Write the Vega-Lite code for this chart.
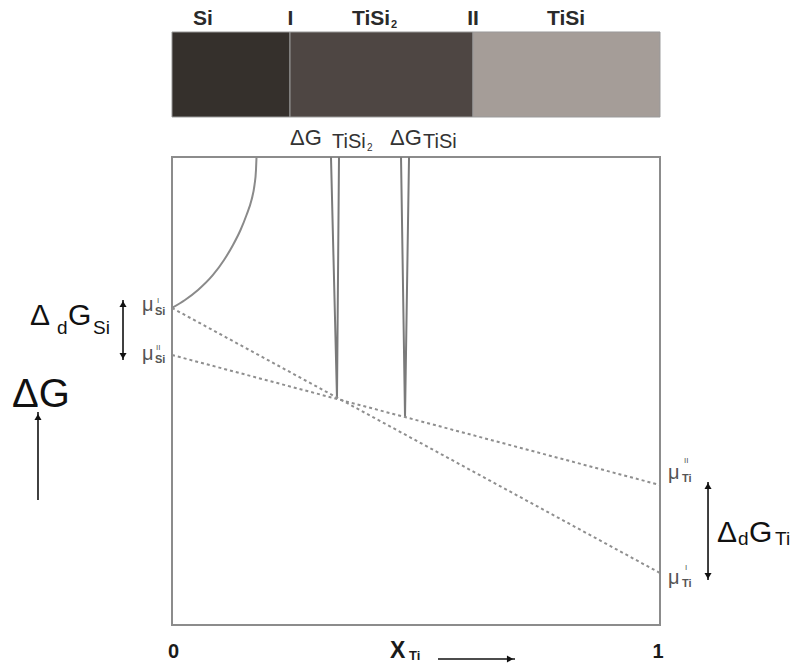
{
  "$schema": "https://vega.github.io/schema/vega-lite/v6.json",
  "width": 799,
  "height": 670,
  "padding": 0,
  "autosize": {"type": "fit", "contains": "padding"},
  "background": "white",
  "config": {"view": {"stroke": null}, "font": "Liberation Sans"},
  "datasets": {
    "bar": [
      {"phase": "Si", "x": 0, "x2": 0.2418, "y": 1.0855, "y2": 1.2671},
      {"phase": "TiSi2", "x": 0.2418, "x2": 0.6168, "y": 1.0855, "y2": 1.2671},
      {"phase": "TiSi", "x": 0.6168, "x2": 1, "y": 1.0855, "y2": 1.2671}
    ],
    "box": [{"x": 0, "x2": 1, "y": 0, "y2": 1}],
    "curve": [
      {"x": 0, "y": 0.6774},
      {"x": 0.0266, "y": 0.6944},
      {"x": 0.0533, "y": 0.7158},
      {"x": 0.084, "y": 0.7479},
      {"x": 0.1066, "y": 0.7799},
      {"x": 0.125, "y": 0.812},
      {"x": 0.1404, "y": 0.844},
      {"x": 0.1527, "y": 0.8761},
      {"x": 0.1629, "y": 0.9081},
      {"x": 0.1691, "y": 0.9402},
      {"x": 0.1721, "y": 0.9722},
      {"x": 0.1732, "y": 1.0}
    ],
    "vlines": [
      {"id": "TiSi2", "ord": 1, "x": 0.3258, "y": 1.0},
      {"id": "TiSi2", "ord": 2, "x": 0.3381, "y": 0.485},
      {"id": "TiSi2", "ord": 3, "x": 0.3422, "y": 1.0},
      {"id": "TiSi", "ord": 1, "x": 0.4693, "y": 1.0},
      {"id": "TiSi", "ord": 2, "x": 0.4775, "y": 0.4444},
      {"id": "TiSi", "ord": 3, "x": 0.4857, "y": 1.0}
    ],
    "tangents": [
      {"id": "I", "x": 0, "y": 0.6774},
      {"id": "I", "x": 1, "y": 0.1111},
      {"id": "II", "x": 0, "y": 0.5769},
      {"id": "II", "x": 1, "y": 0.2991}
    ],
    "shafts": [
      {"x": -0.1004, "y": 0.6944, "x2": -0.1004, "y2": 0.5662},
      {"x": -0.2746, "y": 0.2671, "x2": -0.2746, "y2": 0.4551},
      {"x": 1.0984, "y": 0.3056, "x2": 1.0984, "y2": 0.0962},
      {"x": 0.5451, "y": -0.0726, "x2": 0.7029, "y2": -0.0726}
    ],
    "heads": [
      {"dir": "up", "x": -0.1004, "y": 0.6859},
      {"dir": "down", "x": -0.1004, "y": 0.5748},
      {"dir": "up", "x": -0.2746, "y": 0.4444},
      {"dir": "up", "x": 1.0984, "y": 0.297},
      {"dir": "down", "x": 1.0984, "y": 0.1047},
      {"dir": "right", "x": 0.6926, "y": -0.0726}
    ]
  },
  "encoding": {
    "x": {"field": "x", "type": "quantitative", "axis": null, "scale": {"domain": [-0.35246, 1.28484], "nice": false, "zero": false}},
    "y": {"field": "y", "type": "quantitative", "axis": null, "scale": {"domain": [-0.09615, 1.33547], "nice": false, "zero": false}}
  },
  "layer": [
    {
      "data": {"name": "bar"},
      "mark": {"type": "rect", "stroke": "#9a9a9a", "strokeWidth": 1},
      "encoding": {
        "x2": {"field": "x2"},
        "y2": {"field": "y2"},
        "color": {"field": "phase", "type": "nominal", "legend": null, "scale": {"domain": ["Si", "TiSi2", "TiSi"], "range": ["#35302c", "#4e4643", "#a59d98"]}}
      }
    },
    {
      "data": {"name": "box"},
      "mark": {"type": "rect", "fill": "transparent", "stroke": "#8c8c8c", "strokeWidth": 2},
      "encoding": {"x2": {"field": "x2"}, "y2": {"field": "y2"}}
    },
    {
      "data": {"name": "curve"},
      "mark": {"type": "line", "interpolate": "monotone", "color": "#8a8a8a", "strokeWidth": 2},
      "encoding": {}
    },
    {
      "data": {"name": "vlines"},
      "mark": {"type": "line", "color": "#7a7a7a", "strokeWidth": 2},
      "encoding": {"detail": {"field": "id"}, "order": {"field": "ord"}}
    },
    {
      "data": {"name": "tangents"},
      "mark": {"type": "line", "color": "#8f8f8f", "strokeWidth": 2, "strokeDash": [3, 3]},
      "encoding": {"detail": {"field": "id"}}
    },
    {
      "data": {"name": "shafts"},
      "mark": {"type": "rule", "color": "#111111", "strokeWidth": 1.6},
      "encoding": {"x2": {"field": "x2"}, "y2": {"field": "y2"}}
    },
    {
      "data": {"name": "heads"},
      "mark": {"type": "point", "filled": true, "color": "#111111", "size": 50, "opacity": 1},
      "encoding": {"shape": {"field": "dir", "type": "nominal", "legend": null, "scale": {"domain": ["up", "down", "right"], "range": ["triangle-up", "triangle-down", "triangle-right"]}}}
    },
    {
      "data": {"values": [
        {"t": "Si", "x": 0.0635, "y": 1.2821},
        {"t": "I", "x": 0.2428, "y": 1.2821},
        {"t": "TiSi", "x": 0.4078, "y": 1.2821},
        {"t": "II", "x": 0.6168, "y": 1.2821},
        {"t": "TiSi", "x": 0.8074, "y": 1.2821}
      ]},
      "mark": {"type": "text", "fontSize": 21, "fontWeight": "bold", "color": "#2a2a2a", "align": "center", "baseline": "alphabetic"},
      "encoding": {"text": {"field": "t"}}
    },
    {
      "data": {"values": [{"t": "2", "x": 0.4488, "y": 1.2756}]},
      "mark": {"type": "text", "fontSize": 11, "fontWeight": "bold", "color": "#2a2a2a", "align": "left", "baseline": "alphabetic"},
      "encoding": {"text": {"field": "t"}}
    },
    {
      "data": {"values": [{"t": "ΔG", "x": 0.2418, "y": 1.0256}, {"t": "ΔG", "x": 0.4467, "y": 1.0256}]},
      "mark": {"type": "text", "fontSize": 22, "color": "#333333", "align": "left", "baseline": "alphabetic"},
      "encoding": {"text": {"field": "t"}}
    },
    {
      "data": {"values": [{"t": "TiSi", "x": 0.3279, "y": 1.0192}, {"t": "TiSi", "x": 0.5143, "y": 1.0192}]},
      "mark": {"type": "text", "fontSize": 20, "color": "#333333", "align": "left", "baseline": "alphabetic"},
      "encoding": {"text": {"field": "t"}}
    },
    {
      "data": {"values": [{"t": "2", "x": 0.3996, "y": 1.0128}]},
      "mark": {"type": "text", "fontSize": 10, "color": "#333333", "align": "left", "baseline": "alphabetic"},
      "encoding": {"text": {"field": "t"}}
    },
    {
      "data": {"values": [
        {"t": "μ", "x": -0.0615, "y": 0.6709},
        {"t": "μ", "x": -0.0615, "y": 0.5662},
        {"t": "μ", "x": 1.0164, "y": 0.312},
        {"t": "μ", "x": 1.0164, "y": 0.0876}
      ]},
      "mark": {"type": "text", "fontSize": 20, "color": "#555555", "align": "left", "baseline": "alphabetic"},
      "encoding": {"text": {"field": "t"}}
    },
    {
      "data": {"values": [
        {"t": "I", "x": -0.0307, "y": 0.688},
        {"t": "II", "x": -0.0328, "y": 0.5876},
        {"t": "II", "x": 1.0492, "y": 0.3462},
        {"t": "I", "x": 1.0512, "y": 0.1175}
      ]},
      "mark": {"type": "text", "fontSize": 8, "color": "#555555", "align": "left", "baseline": "alphabetic"},
      "encoding": {"text": {"field": "t"}}
    },
    {
      "data": {"values": [
        {"t": "Si", "x": -0.0348, "y": 0.6624},
        {"t": "Si", "x": -0.0348, "y": 0.5598},
        {"t": "Ti", "x": 1.0451, "y": 0.3056},
        {"t": "Ti", "x": 1.0451, "y": 0.0812}
      ]},
      "mark": {"type": "text", "fontSize": 11, "fontWeight": "bold", "color": "#555555", "align": "left", "baseline": "alphabetic"},
      "encoding": {"text": {"field": "t"}}
    },
    {
      "data": {"values": [
        {"t": "Δ", "x": -0.291, "y": 0.641},
        {"t": "G", "x": -0.2131, "y": 0.641},
        {"t": "Δ", "x": 1.1168, "y": 0.1774},
        {"t": "G", "x": 1.1824, "y": 0.1774}
      ]},
      "mark": {"type": "text", "fontSize": 30, "color": "#111111", "align": "left", "baseline": "alphabetic"},
      "encoding": {"text": {"field": "t"}}
    },
    {
      "data": {"values": [
        {"t": "d", "x": -0.2357, "y": 0.6218},
        {"t": "Si", "x": -0.1619, "y": 0.6218},
        {"t": "d", "x": 1.1598, "y": 0.1709},
        {"t": "Ti", "x": 1.2357, "y": 0.1709}
      ]},
      "mark": {"type": "text", "fontSize": 19, "color": "#111111", "align": "left", "baseline": "alphabetic"},
      "encoding": {"text": {"field": "t"}}
    },
    {
      "data": {"values": [{"t": "ΔG", "x": -0.3279, "y": 0.4658}]},
      "mark": {"type": "text", "fontSize": 40, "color": "#111111", "align": "left", "baseline": "alphabetic"},
      "encoding": {"text": {"field": "t"}}
    },
    {
      "data": {"values": [{"t": "0", "x": 0.0031, "y": -0.0705}, {"t": "1", "x": 0.9959, "y": -0.0705}]},
      "mark": {"type": "text", "fontSize": 20, "fontWeight": "bold", "color": "#1a1a1a", "align": "center", "baseline": "alphabetic"},
      "encoding": {"text": {"field": "t"}}
    },
    {
      "data": {"values": [{"t": "X", "x": 0.4467, "y": -0.0705}]},
      "mark": {"type": "text", "fontSize": 23, "fontWeight": "bold", "color": "#1a1a1a", "align": "left", "baseline": "alphabetic"},
      "encoding": {"text": {"field": "t"}}
    },
    {
      "data": {"values": [{"t": "Ti", "x": 0.4857, "y": -0.0748}]},
      "mark": {"type": "text", "fontSize": 13, "fontWeight": "bold", "color": "#1a1a1a", "align": "left", "baseline": "alphabetic"},
      "encoding": {"text": {"field": "t"}}
    }
  ]
}
